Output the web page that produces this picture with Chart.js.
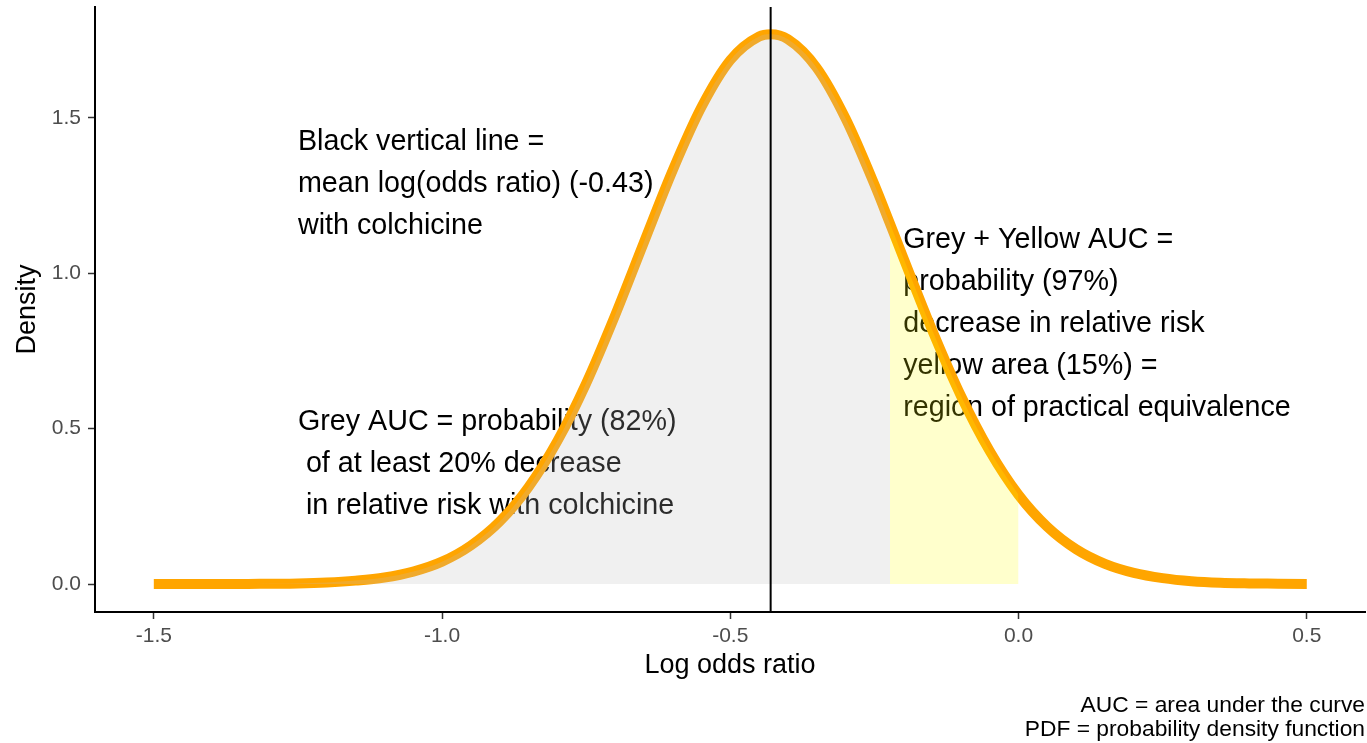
<!DOCTYPE html>
<html>
<head>
  <title>Log odds ratio density</title>
  <style>
    body {
      margin: 0;
      background: #fff;
    }
    .chart-container {
      position: relative;
      width: 1367px;
      height: 743px;
    }
  </style>
  <script src="https://cdn.jsdelivr.net/npm/chart.js"></script>
</head>
<body>
  <div class="chart-container">
    <canvas id="densityChart"></canvas>
  </div>
  <script>
    // Density of the log(odds ratio)
    const logOddsRatio = [-1.5, -1.45, -1.4, -1.35, -1.3, -1.25, -1.2, -1.15, -1.1, -1.05,
      -1.0, -0.95, -0.9, -0.85, -0.8, -0.75, -0.7, -0.65, -0.6, -0.55,
      -0.5, -0.45, -0.43, -0.4, -0.35, -0.3, -0.25, -0.223, -0.2, -0.15,
      -0.1, -0.05, 0.0, 0.05, 0.1, 0.15, 0.2, 0.25, 0.3, 0.35, 0.4, 0.45, 0.5];
    const density = [0.000, 0.000, 0.000, 0.000, 0.001, 0.002, 0.005, 0.011, 0.021, 0.040,
      0.072, 0.124, 0.201, 0.312, 0.460, 0.646, 0.864, 1.099, 1.331, 1.535,
      1.686, 1.762, 1.769, 1.753, 1.661, 1.498, 1.286, 1.160, 1.051, 0.818,
      0.606, 0.428, 0.287, 0.184, 0.112, 0.065, 0.036, 0.019, 0.009, 0.004, 0.002, 0.001, 0.000];

    const meanLogOR = -0.43;     // black vertical line
    const greyUpper = -0.223;    // log(0.8) = 20% decrease
    const yellowUpper = 0.0;     // no effect

    const xTicks = [-1.5, -1.0, -0.5, 0.0, 0.5];
    const yTicks = [0.0, 0.5, 1.0, 1.5];

    const meanText = ['Black vertical line =', 'mean log(odds ratio) (-0.43)', 'with colchicine'];
    const greyText = ['Grey AUC = probability (82%)', ' of at least 20% decrease', ' in relative risk with colchicine'];
    const yellowText = ['Grey + Yellow AUC =', 'probability (97%)', 'decrease in relative risk',
      'yellow area (15%) =', 'region of practical equivalence'];
    const captionLines = ['AUC = area under the curve', 'PDF = probability density function'];

    Chart.defaults.font.family = "'Liberation Sans', Arial, sans-serif";

    const curvePoints = logOddsRatio.map((x, i) => ({ x: x, y: density[i] }));
    const greyPoints = curvePoints.filter(p => p.x <= greyUpper);
    const yellowPoints = curvePoints.filter(p => p.x >= greyUpper && p.x <= yellowUpper);

    // text blocks anchored in data units, like ggplot annotate()
    const textBlocks = [
      { lines: meanText, x: -1.25, y: 1.30 },
      { lines: greyText, x: -1.25, y: 0.40 },
      { lines: yellowText, x: -0.20, y: 0.85 }
    ];

    const overlayPlugin = {
      id: 'overlay',
      beforeDatasetsDraw(chart) {
        const ctx = chart.ctx;
        const xs = chart.scales.x, ys = chart.scales.y;
        ctx.save();
        ctx.font = "28.7px 'Liberation Sans', Arial, sans-serif";
        ctx.fillStyle = '#000';
        ctx.textAlign = 'left';
        ctx.textBaseline = 'alphabetic';
        const lineGap = 42;
        textBlocks.forEach(b => {
          const px = xs.getPixelForValue(b.x);
          const cy = ys.getPixelForValue(b.y);
          const n = b.lines.length;
          b.lines.forEach((line, i) => {
            ctx.fillText(line, px, cy + (i - (n - 1) / 2) * lineGap + 12);
          });
        });
        ctx.restore();
      },
      afterDatasetsDraw(chart) {
        const ctx = chart.ctx;
        const area = chart.chartArea;
        const x = chart.scales.x.getPixelForValue(meanLogOR);
        ctx.save();
        ctx.strokeStyle = '#000';
        ctx.lineWidth = 2;
        ctx.beginPath();
        ctx.moveTo(x, area.top);
        ctx.lineTo(x, area.bottom);
        ctx.stroke();
        ctx.restore();
      },
      afterDraw(chart) {
        const ctx = chart.ctx;
        ctx.save();
        ctx.font = "22.8px 'Liberation Sans', Arial, sans-serif";
        ctx.fillStyle = '#000';
        ctx.textAlign = 'right';
        ctx.textBaseline = 'alphabetic';
        ctx.fillText(captionLines[0], 1365, 712);
        ctx.fillText(captionLines[1], 1365, 736);
        ctx.restore();
      }
    };

    const ctx = document.getElementById('densityChart').getContext('2d');
    new Chart(ctx, {
      type: 'line',
      data: {
        datasets: [
          {
            label: 'PDF',
            data: curvePoints,
            borderColor: '#FFA500',
            borderWidth: 10,
            pointRadius: 0,
            fill: false,
            cubicInterpolationMode: 'monotone',
            order: 3
          },
          {
            label: 'Grey AUC',
            data: greyPoints,
            borderWidth: 0,
            borderColor: 'rgba(0,0,0,0)',
            backgroundColor: 'rgba(190,190,190,0.23)',
            pointRadius: 0,
            fill: 'origin',
            cubicInterpolationMode: 'monotone',
            order: 2
          },
          {
            label: 'Yellow AUC',
            data: yellowPoints,
            borderWidth: 0,
            borderColor: 'rgba(0,0,0,0)',
            backgroundColor: 'rgba(255,255,0,0.2)',
            pointRadius: 0,
            fill: 'origin',
            cubicInterpolationMode: 'monotone',
            order: 1
          }
        ]
      },
      options: {
        responsive: true,
        maintainAspectRatio: false,
        animation: false,
        layout: { padding: { top: 7, right: 2, left: 0, bottom: 61 } },
        plugins: {
          legend: { display: false },
          tooltip: { enabled: false }
        },
        scales: {
          x: {
            type: 'linear',
            min: -1.602,
            max: 0.601,
            afterBuildTicks: s => { s.ticks = xTicks.map(v => ({ value: v })); },
            afterFit: s => { s.height = 70; s.paddingLeft = 0; s.paddingRight = 0; },
            ticks: {
              callback: v => Number(v).toFixed(1),
              font: { size: 21 },
              color: '#4D4D4D',
              padding: 5,
              maxRotation: 0,
              autoSkip: false
            },
            grid: { drawOnChartArea: false, drawTicks: true, tickLength: 7, tickWidth: 1.5, tickColor: '#333333' },
            border: { color: '#000', width: 2 },
            title: { display: true, text: 'Log odds ratio', font: { size: 27 }, color: '#000', padding: 0 }
          },
          y: {
            type: 'linear',
            min: -0.090,
            max: 1.857,
            afterBuildTicks: s => { s.ticks = yTicks.map(v => ({ value: v })); },
            afterFit: s => { s.width = 95; s.paddingTop = 0; s.paddingBottom = 0; },
            ticks: {
              callback: v => Number(v).toFixed(1),
              font: { size: 21 },
              color: '#4D4D4D',
              padding: 7
            },
            grid: { drawOnChartArea: false, drawTicks: true, tickLength: 7, tickWidth: 1.5, tickColor: '#333333' },
            border: { color: '#000', width: 2 },
            title: { display: true, text: 'Density', font: { size: 27 }, color: '#000', padding: { top: 11, bottom: 0 } }
          }
        }
      },
      plugins: [overlayPlugin]
    });
  </script>
</body>
</html>
